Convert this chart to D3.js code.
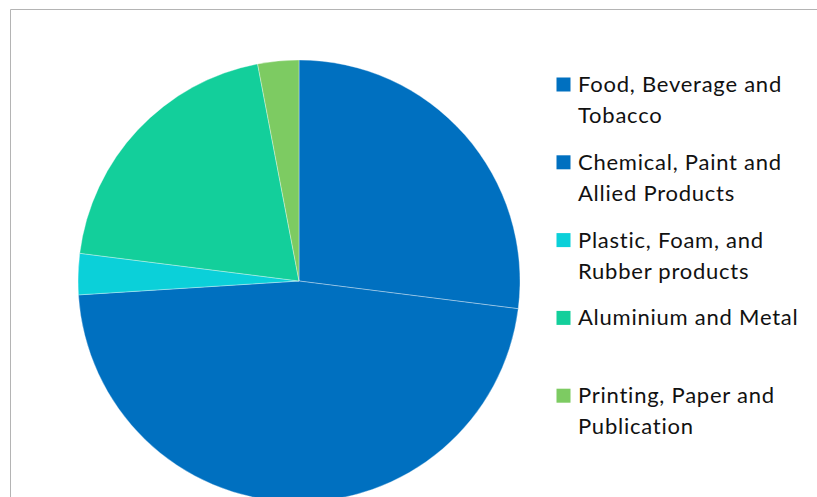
<!DOCTYPE html>
<html>
<head>
<meta charset="utf-8">
<script src="https://cdn.jsdelivr.net/npm/d3@7"></script>
<style>
  html, body { margin: 0; padding: 0; background: #ffffff; overflow: hidden; }
  svg { display: block; }
</style>
</head>
<body>
<svg id="chart" width="817" height="497"></svg>
<script>
// Industry sectors and their shares (%)
const categories = [
  "Food, Beverage and Tobacco",
  "Chemical, Paint and Allied Products",
  "Plastic, Foam, and Rubber products",
  "Aluminium and Metal",
  "Printing, Paper and Publication"
];
const values = [27, 47, 3, 20, 3];
// Legend text, wrapped as shown
const legendLines = [
  ["Food, Beverage and", "Tobacco"],
  ["Chemical, Paint and", "Allied Products"],
  ["Plastic, Foam, and", "Rubber products"],
  ["Aluminium and Metal"],
  ["Printing, Paper and", "Publication"]
];
const colors = ["#0070C0", "#0070C0", "#0BD0D9", "#13CF9B", "#7DCB62"];

const svg = d3.select("#chart");
const W = 817, H = 497;

// chart area frame (top and left edges visible)
svg.append("path")
  .attr("d", `M10.5,${H} L10.5,9.5 L${W},9.5`)
  .attr("fill", "none")
  .attr("stroke", "#b4b4b4")
  .attr("stroke-width", 1);

const cx = 299, cy = 281, r = 221;
const color = d3.scaleOrdinal().domain(categories).range(colors);

const pie = d3.pie().sort(null).value(d => d.value);
const arc = d3.arc().innerRadius(0).outerRadius(r);
const data = categories.map((c, i) => ({ name: c, value: values[i] }));

svg.append("g")
  .attr("transform", `translate(${cx},${cy})`)
  .selectAll("path")
  .data(pie(data))
  .join("path")
  .attr("d", arc)
  .attr("fill", d => color(d.data.name))
  .attr("stroke", "rgba(255,255,255,0.45)")
  .attr("stroke-width", 0.75);

// legend
const fontSize = 22;
const legend = svg.append("g").attr("font-family", "Lato, 'Open Sans', sans-serif")
  .attr("font-size", fontSize).attr("fill", "#111");
const baseY = 92, stepY = 77.8, lineH = 31;
const item = legend.selectAll("g").data(data).join("g")
  .attr("transform", (d, i) => `translate(0,${baseY + i * stepY})`);
item.append("rect")
  .attr("x", 556.5).attr("y", -14.5)
  .attr("width", 14).attr("height", 14)
  .attr("fill", d => color(d.name));
const texts = item.append("text").attr("x", 578);
texts.selectAll("tspan")
  .data((d, i) => legendLines[i])
  .join("tspan")
  .attr("x", 578)
  .attr("y", (t, j) => j * lineH)
  .text(t => t);

// widen the tracking a little so the first line spans ~204px
const probe = texts.node().querySelector("tspan");
const w0 = probe.getComputedTextLength();
const n = legendLines[0][0].length;
const spacing = Math.max(0, (204 - w0) / n);
legend.attr("letter-spacing", spacing.toFixed(2));
</script>
</body>
</html>
